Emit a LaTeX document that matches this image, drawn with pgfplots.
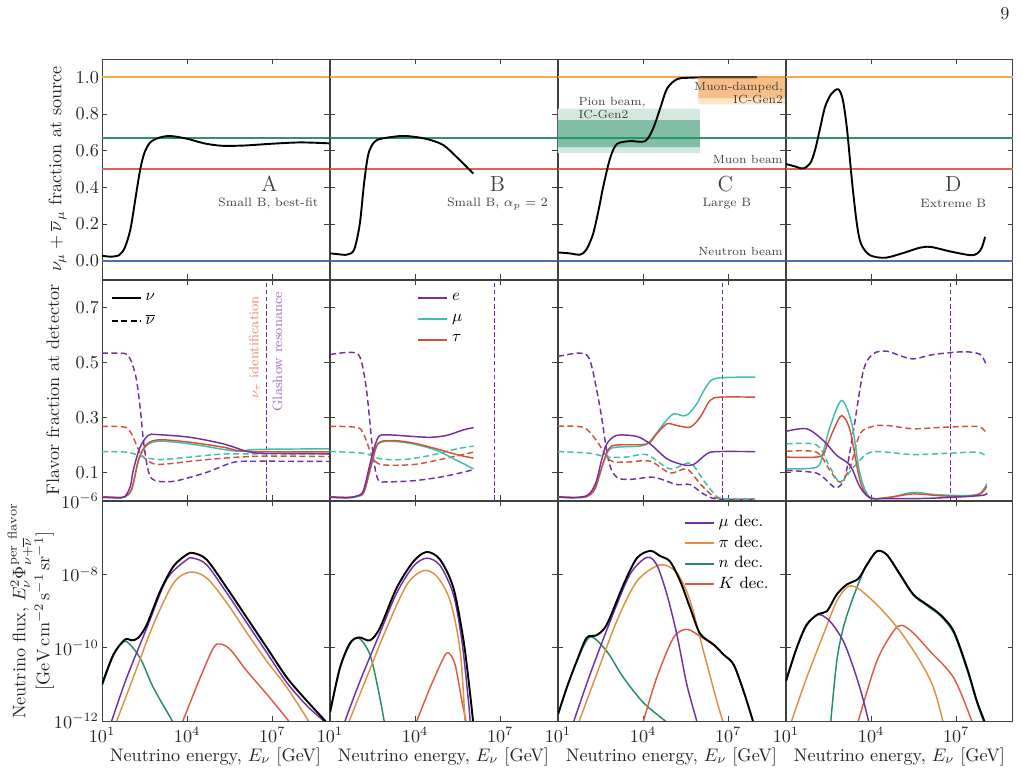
\documentclass[border=0pt]{standalone}
\usepackage{pgfplots}
\pgfplotsset{compat=1.18}
\usepgfplotslibrary{groupplots}
\definecolor{cE}{RGB}{112,48,160}
\definecolor{cMu}{RGB}{64,190,170}
\definecolor{cTau}{RGB}{210,80,56}
\definecolor{hOr}{RGB}{245,170,80}
\definecolor{hGr}{RGB}{40,150,110}
\definecolor{hRd}{RGB}{220,100,80}
\definecolor{hBl}{RGB}{80,110,170}
\definecolor{cPi}{RGB}{220,145,65}
\definecolor{cN}{RGB}{35,140,100}
\definecolor{cK}{RGB}{220,90,70}
\definecolor{bGL}{RGB}{212,232,225}
\definecolor{bGD}{RGB}{130,190,165}
\definecolor{bOr}{RGB}{238,150,55}
\definecolor{tTau}{RGB}{235,135,115}
\definecolor{tGl}{RGB}{160,110,200}
\pgfplotsset{
  hline/.style={line width=1.1pt, forget plot},
  tot/.style={black, line width=1.05pt, smooth, tension=0.5, forget plot},
  cs/.style={line width=0.8pt, smooth, tension=0.5, forget plot},
  cd/.style={line width=0.8pt, smooth, tension=0.5, dash pattern=on 3.3pt off 1.9pt, forget plot},
  row1/.style={ymin=-0.1, ymax=1.1, ytick={0,0.2,0.4,0.6,0.8,1}, yticklabels={}},
  row1L/.style={row1, yticklabels={$0.0$,$0.2$,$0.4$,$0.6$,$0.8$,$1.0$},
    ylabel={$\nu_\mu+\overline{\nu}_\mu$ fraction at source}},
  row2/.style={ymin=0, ymax=0.8, ytick={0.1,0.3,0.5,0.7}, yticklabels={}},
  row2L/.style={row2, yticklabels={$0.1$,$0.3$,$0.5$,$0.7$},
    ylabel={Flavor fraction at detector}, ylabel style={yshift=4pt}},
  row3/.style={ymin=-12, ymax=-6, ytick={-12,-10,-8,-6}, yticklabels={}},
  row3L/.style={row3, yticklabels={$10^{-12}$,$10^{-10}$,$10^{-8}$,$10^{-6}$},
    ylabel style={align=center, yshift=-5pt},
    ylabel={Neutrino flux, $E_\nu^2\Phi_{\nu+\overline{\nu}}^{\mathrm{per\ flavor}}$\\$[\mathrm{GeV\,cm^{-2}\,s^{-1}\,sr^{-1}}]$}},
}
\newcommand{\hlines}{%
  \addplot[hline, hOr] coordinates {(1,1)(9,1)};
  \addplot[hline, hGr] coordinates {(1,0.6667)(9,0.6667)};
  \addplot[hline, hRd] coordinates {(1,0.5)(9,0.5)};
  \addplot[hline, hBl] coordinates {(1,0)(9,0)};
}
\newcommand{\glashow}{\addplot[cE, line width=0.6pt, dash pattern=on 2.6pt off 1.3pt, forget plot] coordinates {(6.8,0)(6.8,0.8)};}
\begin{document}
\begin{tikzpicture}
\begin{groupplot}[
  group style={group name=G, group size=4 by 3, horizontal sep=0.55pt, vertical sep=0.55pt,
    xticklabels at=edge bottom, xlabels at=edge bottom},
  width=124.85pt, height=121pt, scale only axis,
  xmin=1, xmax=9, xtick={1,4,7}, xticklabels={$10^{1}$,$10^{4}$,$10^{7}$},
  tick align=inside, major tick length=2.6pt,
  every tick/.style={black!75, line width=0.45pt},
  axis line style={black!75, line width=0.5pt},
  tick label style={text=black!85},
  yticklabel style={inner sep=1.5pt},
  label style={text=black!85},
  xlabel={Neutrino energy, $E_\nu$ [GeV]},
  xlabel style={yshift=4pt},
  legend image code/.code={\draw[#1] (0pt,0pt) -- (16pt,0pt);},
]
% ---------------- Row 1 ----------------
\nextgroupplot[row1L]
\hlines
\addplot[tot] coordinates {(1,0.027)(1.3,0.022)(1.6,0.03)(1.8,0.07)(2.0,0.17)(2.2,0.36)(2.35,0.5)(2.5,0.59)(2.7,0.645)(3.0,0.67)(3.4,0.68)(4.0,0.665)(4.6,0.64)(5.2,0.627)(6,0.628)(7,0.638)(8,0.645)(9,0.64)};
\node[font=\large, text=black!75] at (axis cs:6.9,0.418) {A};
\node[font=\fontsize{6.7}{8}\selectfont, text=black!75] at (axis cs:6.86,0.31) {Small B, best-fit};

\nextgroupplot[row1]
\hlines
\addplot[tot] coordinates {(1,0.04)(1.3,0.035)(1.6,0.033)(1.85,0.06)(2.05,0.2)(2.2,0.42)(2.35,0.58)(2.55,0.645)(2.8,0.665)(3.5,0.68)(4.0,0.675)(4.5,0.66)(5.0,0.63)(5.5,0.56)(6.05,0.475)};
\node[font=\large, text=black!75] at (axis cs:6.9,0.418) {B};
\node[font=\fontsize{6.7}{8}\selectfont, text=black!75] at (axis cs:6.9,0.31) {Small B, $\alpha_p=2$};

\nextgroupplot[row1]
\addplot[draw=none, fill=bGL, forget plot] coordinates {(1,0.587)(6,0.587)(6,0.83)(1,0.83)(1,0.587)};
\addplot[draw=none, fill=bGD, forget plot] coordinates {(1,0.62)(6,0.62)(6,0.766)(1,0.766)(1,0.62)};
\hlines
\addplot[tot] coordinates {(1,0.045)(1.4,0.04)(1.78,0.033)(2.0,0.06)(2.24,0.147)(2.45,0.29)(2.59,0.4)(2.84,0.56)(3.08,0.636)(3.54,0.652)(4.07,0.652)(4.35,0.72)(4.6,0.83)(4.85,0.94)(5.2,0.99)(5.66,0.998)(6.5,1.0)(8.02,1.0)};
\addplot[draw=none, fill=bOr, fill opacity=0.25, forget plot] coordinates {(5.95,0.853)(9,0.853)(9,1.0)(5.95,1.0)(5.95,0.853)};
\addplot[draw=none, fill=bOr, fill opacity=0.48, forget plot] coordinates {(5.95,0.886)(9,0.886)(9,1.0)(5.95,1.0)(5.95,0.886)};
\node[font=\large, text=black!75] at (axis cs:6.9,0.418) {C};
\node[font=\fontsize{6.7}{8}\selectfont, text=black!75] at (axis cs:6.95,0.31) {Large B};
\node[font=\fontsize{6.5}{7.2}\selectfont, text=black!75, anchor=east, inner sep=0.5pt] at (axis cs:8.97,0.552) {Muon beam};
\node[font=\fontsize{6.5}{7.2}\selectfont, text=black!75, anchor=east, inner sep=0.5pt] at (axis cs:8.97,0.048) {Neutron beam};
\node[font=\fontsize{6.5}{7.2}\selectfont, text=black!75, anchor=west, align=left, inner sep=0.5pt] at (axis cs:1.68,0.835) {Pion beam,\\IC-Gen2};
\node[font=\fontsize{6.5}{7.2}\selectfont, text=black!75, anchor=east, align=right, inner sep=0.5pt] at (axis cs:8.97,0.915) {Muon-damped,\\IC-Gen2};

\nextgroupplot[row1]
\hlines
\addplot[tot] coordinates {(1,0.527)(1.3,0.515)(1.6,0.503)(1.85,0.53)(2.02,0.6)(2.2,0.72)(2.38,0.84)(2.6,0.91)(2.84,0.935)(3.0,0.88)(3.15,0.72)(3.33,0.43)(3.5,0.2)(3.65,0.09)(3.96,0.03)(4.5,0.016)(5.2,0.045)(5.7,0.07)(6.1,0.075)(6.8,0.05)(7.5,0.03)(7.75,0.04)(7.9,0.07)(8.02,0.13)};
\node[font=\large, text=black!75] at (axis cs:6.9,0.418) {D};
\node[font=\fontsize{6.7}{8}\selectfont, text=black!75] at (axis cs:6.9,0.31) {Extreme B};

% ---------------- Row 2 ----------------
\nextgroupplot[row2L, legend style={draw=none, fill=none, font=\small, at={(0.03,0.965)}, anchor=north west, inner sep=1pt, row sep=2pt}, legend cell align=left]
\addlegendimage{black, line width=1.1pt}
\addlegendentry{$\nu$}
\addlegendimage{black, line width=1.1pt, dash pattern=on 3.3pt off 1.9pt}
\addlegendentry{$\overline{\nu}$}
\glashow
\addplot[cd, cE] coordinates {(1,0.534)(1.6,0.534)(1.87,0.53)(2.05,0.5)(2.22,0.435)(2.35,0.33)(2.46,0.216)(2.6,0.12)(2.75,0.078)(3.05,0.067)(3.64,0.07)(4.7,0.101)(5.63,0.137)(6.46,0.141)(9,0.14)};
\addplot[cd, cTau] coordinates {(1,0.268)(1.75,0.266)(1.95,0.255)(2.1,0.228)(2.3,0.18)(2.46,0.156)(2.81,0.132)(3.28,0.131)(4.7,0.147)(6.46,0.159)(9,0.158)};
\addplot[cd, cMu] coordinates {(1,0.176)(1.87,0.174)(2.2,0.165)(2.46,0.156)(3.05,0.147)(4.1,0.156)(5.27,0.167)(7,0.168)(9,0.168)};
\addplot[cs, cMu] coordinates {(1,0.01)(1.5,0.008)(1.8,0.01)(2.05,0.04)(2.3,0.15)(2.6,0.2)(3.05,0.214)(4.1,0.204)(5.28,0.184)(5.87,0.177)(6.46,0.184)(9,0.186)};
\addplot[cs, cTau] coordinates {(1,0.012)(1.5,0.01)(1.8,0.012)(2.05,0.04)(2.3,0.15)(2.6,0.205)(3.05,0.219)(4.1,0.21)(5.28,0.192)(6.1,0.177)(9,0.175)};
\addplot[cs, cE] coordinates {(1,0.01)(1.5,0.008)(1.8,0.012)(2.0,0.05)(2.1,0.107)(2.34,0.192)(2.63,0.235)(2.93,0.238)(4.1,0.228)(5.28,0.204)(6.1,0.177)(6.7,0.17)(9,0.168)};
\node[rotate=90, font=\fontsize{7.5}{9}\selectfont, text=tTau] at (axis cs:6.37,0.555) {$\nu_\tau$ identification};
\node[rotate=90, font=\fontsize{7.5}{9}\selectfont, text=tGl] at (axis cs:7.18,0.54) {Glashow resonance};

\nextgroupplot[row2, legend style={draw=none, fill=none, font=\small, at={(0.375,0.965)}, anchor=north west, inner sep=1pt, row sep=2pt}, legend cell align=left]
\addlegendimage{color=cE, line width=1.1pt}
\addlegendentry{$e$}
\addlegendimage{color=cMu, line width=1.1pt}
\addlegendentry{$\mu$}
\addlegendimage{color=cTau, line width=1.1pt}
\addlegendentry{$\tau$}
\glashow
\addplot[cd, cE] coordinates {(1,0.529)(1.71,0.537)(2.06,0.519)(2.29,0.398)(2.53,0.156)(2.7,0.073)(3.0,0.066)(3.94,0.07)(4.88,0.083)(5.7,0.101)(6.06,0.111)};
\addplot[cd, cTau] coordinates {(1,0.268)(1.94,0.264)(2.18,0.241)(2.53,0.15)(2.88,0.128)(3.94,0.129)(4.88,0.147)(6.06,0.174)};
\addplot[cd, cMu] coordinates {(1,0.176)(2.18,0.17)(2.76,0.15)(3.59,0.147)(4.53,0.162)(5.47,0.186)(6.06,0.196)};
\addplot[cs, cMu] coordinates {(1,0.01)(1.6,0.008)(1.95,0.012)(2.2,0.03)(2.47,0.13)(2.7,0.204)(3.24,0.213)(3.94,0.204)(4.76,0.18)(5.47,0.144)(6.06,0.113)};
\addplot[cs, cTau] coordinates {(1,0.012)(1.6,0.01)(1.95,0.014)(2.2,0.03)(2.47,0.135)(2.7,0.207)(3.24,0.216)(3.94,0.207)(4.76,0.186)(5.47,0.165)(6.06,0.152)};
\addplot[cs, cE] coordinates {(1,0.01)(1.6,0.008)(1.95,0.015)(2.18,0.035)(2.47,0.156)(2.7,0.228)(3.0,0.237)(3.8,0.232)(4.53,0.228)(5.12,0.235)(5.7,0.255)(6.06,0.263)};

\nextgroupplot[row2]
\glashow
\addplot[cd, cE] coordinates {(1,0.522)(1.78,0.534)(2.13,0.507)(2.48,0.337)(2.78,0.144)(3.07,0.083)(3.54,0.075)(4.25,0.083)(4.6,0.077)(5.19,0.056)(5.66,0.056)(6.13,0.022)(6.6,0.004)(7.95,0.003)};
\addplot[cd, cTau] coordinates {(1,0.268)(1.9,0.264)(2.36,0.216)(2.84,0.144)(3.42,0.138)(4.25,0.141)(4.95,0.098)(5.54,0.113)(6.01,0.059)(6.48,0.013)(6.84,0.004)(7.95,0.003)};
\addplot[cd, cMu] coordinates {(1,0.176)(2.13,0.17)(2.72,0.156)(3.42,0.156)(4.13,0.165)(4.95,0.113)(5.66,0.134)(6.13,0.071)(6.6,0.013)(7.0,0.004)(7.95,0.003)};
\addplot[cs, cMu] coordinates {(1,0.01)(1.5,0.008)(2.0,0.012)(2.3,0.04)(2.55,0.12)(2.78,0.18)(3.07,0.192)(4.01,0.198)(4.36,0.228)(4.72,0.277)(5.07,0.313)(5.4,0.306)(5.6,0.313)(5.89,0.35)(6.25,0.416)(6.6,0.443)(7.95,0.447)};
\addplot[cs, cTau] coordinates {(1,0.012)(1.5,0.01)(2.0,0.012)(2.3,0.04)(2.55,0.12)(2.78,0.185)(3.07,0.2)(4.13,0.204)(4.48,0.241)(4.84,0.277)(5.19,0.271)(5.66,0.265)(6.01,0.301)(6.36,0.362)(6.72,0.374)(7.95,0.374)};
\addplot[cs, cE] coordinates {(1,0.012)(1.5,0.008)(2.0,0.015)(2.2,0.035)(2.36,0.071)(2.55,0.15)(2.72,0.204)(3.07,0.235)(3.78,0.231)(4.25,0.204)(4.84,0.15)(5.42,0.128)(5.78,0.129)(6.25,0.168)(6.6,0.176)(7.95,0.176)};

\nextgroupplot[row2]
\glashow
\addplot[cd, cE] coordinates {(1.02,0.107)(2.08,0.098)(2.55,0.059)(2.79,0.044)(3.08,0.083)(3.38,0.253)(3.73,0.471)(4.08,0.532)(4.55,0.541)(5.02,0.525)(5.49,0.513)(6.2,0.529)(7.26,0.539)(7.85,0.529)(8.08,0.485)};
\addplot[cd, cTau] coordinates {(1.02,0.177)(2.08,0.174)(2.55,0.107)(2.91,0.065)(3.26,0.119)(3.61,0.241)(4.08,0.268)(4.55,0.271)(5.49,0.259)(6.44,0.264)(7.61,0.268)(7.9,0.262)(8.08,0.241)};
\addplot[cd, cMu] coordinates {(1.02,0.204)(2.08,0.2)(2.55,0.119)(2.91,0.065)(3.38,0.119)(3.85,0.168)(4.32,0.176)(5.49,0.165)(6.67,0.17)(7.61,0.174)(7.9,0.17)(8.08,0.156)};
\addplot[cs, cMu] coordinates {(1.02,0.113)(2.08,0.119)(2.3,0.17)(2.55,0.265)(2.96,0.362)(3.32,0.277)(3.61,0.095)(3.96,0.01)(4.67,0.01)(5.49,0.028)(6.2,0.02)(7.38,0.016)(7.85,0.025)(8.08,0.059)};
\addplot[cs, cTau] coordinates {(1.02,0.156)(2.2,0.158)(2.45,0.2)(2.67,0.253)(2.96,0.307)(3.26,0.253)(3.61,0.071)(3.96,0.008)(4.67,0.01)(5.49,0.022)(6.5,0.015)(7.38,0.013)(7.85,0.022)(8.08,0.049)};
\addplot[cs, cE] coordinates {(1.02,0.25)(1.73,0.259)(2.32,0.216)(2.79,0.162)(3.26,0.126)(3.61,0.047)(3.96,0.008)(4.5,0.005)(6,0.006)(7.85,0.016)(8.08,0.026)};

% ---------------- Row 3 ----------------
\nextgroupplot[row3L]
\addplot[cs, cN] coordinates {(1,-11.05)(1.4,-10.22)(1.81,-9.82)(2.34,-10.28)(2.81,-11.09)(3.48,-12)(3.55,-12.1)};
\addplot[cs, cK] coordinates {(3.8,-12.1)(3.85,-12)(4.46,-10.82)(4.93,-10.0)(5.17,-9.9)(5.52,-10.05)(6.11,-10.64)(6.81,-11.27)(7.58,-12)(7.65,-12.1)};
\addplot[cs, cPi] coordinates {(1.45,-12.2)(1.52,-12)(2.1,-10.82)(2.81,-9.37)(3.52,-8.24)(4.1,-7.94)(4.69,-8.1)(5.4,-8.78)(6.11,-9.6)(6.81,-10.37)(7.52,-11.09)(8.28,-12)(8.4,-12.2)};
\addplot[cs, cE] coordinates {(1.25,-12.2)(1.34,-12)(1.87,-10.82)(2.58,-9.46)(3.28,-8.14)(3.99,-7.6)(4.22,-7.56)(4.69,-7.74)(5.4,-8.51)(6.11,-9.33)(6.81,-10.14)(7.52,-10.96)(8.23,-11.59)(8.81,-12)(8.9,-12.15)};
\addplot[tot] coordinates {(1,-11.0)(1.4,-10.19)(1.81,-9.78)(2.05,-9.8)(2.28,-9.73)(2.58,-9.37)(3.05,-8.46)(3.52,-7.78)(3.99,-7.46)(4.22,-7.42)(4.69,-7.6)(5.4,-8.37)(6.11,-9.19)(6.81,-10.0)(7.52,-10.82)(8.23,-11.46)(8.87,-12.0)(9,-12.15)};

\nextgroupplot[row3]
\addplot[cs, cN] coordinates {(1,-11.8)(1.35,-10.57)(1.71,-9.9)(2.02,-9.74)(2.41,-10.19)(2.71,-11.18)(2.91,-12)(2.95,-12.2)};
\addplot[cs, cK] coordinates {(4.03,-12.1)(4.06,-12)(4.53,-11.09)(5.0,-10.28)(5.18,-10.14)(5.41,-10.46)(5.65,-11.46)(5.79,-12)(5.81,-12.2)};
\addplot[cs, cPi] coordinates {(1.65,-12.1)(1.68,-12)(2.29,-10.82)(3.0,-9.46)(3.71,-8.28)(4.29,-7.9)(4.76,-8.05)(5.24,-8.73)(5.59,-10.1)(5.76,-12)(5.78,-12.2)};
\addplot[cs, cE] coordinates {(1.5,-12.1)(1.53,-12)(2.06,-10.91)(2.76,-9.6)(3.35,-8.51)(3.94,-7.78)(4.41,-7.56)(4.88,-7.76)(5.35,-8.55)(5.65,-9.82)(5.88,-11.46)(5.94,-12)(5.96,-12.2)};
\addplot[tot] coordinates {(1,-11.77)(1.35,-10.55)(1.71,-9.87)(2.03,-9.72)(2.41,-9.8)(2.76,-9.46)(3.35,-8.37)(3.94,-7.65)(4.41,-7.39)(4.88,-7.6)(5.35,-8.37)(5.71,-9.82)(5.94,-11.27)(6.04,-12)(6.07,-12.3)};

\nextgroupplot[row3, legend style={draw=none, fill=none, font=\small, at={(0.545,0.96)}, anchor=north west, inner sep=1pt, row sep=-0.5pt}, legend cell align=left]
\addlegendimage{color=cE, line width=1.1pt}
\addlegendentry{$\mu$ dec.}
\addlegendimage{color=cPi, line width=1.1pt}
\addlegendentry{$\pi$ dec.}
\addlegendimage{color=cN, line width=1.1pt}
\addlegendentry{$n$ dec.}
\addlegendimage{color=cK, line width=1.1pt}
\addlegendentry{$K$ dec.}
\addplot[cs, cN] coordinates {(1,-11.84)(1.31,-11.1)(1.66,-10.38)(2.13,-9.71)(2.72,-10.1)(3.31,-10.82)(4.01,-11.5)(4.78,-12)(4.9,-12.1)};
\addplot[cs, cK] coordinates {(3.95,-12.1)(4.01,-12)(4.48,-10.82)(5.07,-9.73)(5.54,-9.5)(6.01,-9.69)(6.48,-9.93)(6.84,-10.2)(7.19,-10.47)(7.54,-11.2)(7.87,-12)(7.92,-12.2)};
\addplot[cs, cPi] coordinates {(1.7,-12.1)(1.75,-12)(2.36,-10.73)(3.07,-9.28)(3.78,-8.19)(4.6,-7.74)(5.19,-7.96)(5.66,-8.73)(6.13,-10.1)(6.6,-11.46)(6.81,-12)(6.85,-12.1)};
\addplot[cs, cE] coordinates {(1.5,-12.15)(1.56,-12)(2.13,-10.73)(2.84,-9.28)(3.54,-8.0)(4.13,-7.54)(4.48,-7.74)(4.84,-8.55)(5.19,-9.64)(5.54,-11.0)(5.89,-12)(5.93,-12.2)};
\addplot[tot] coordinates {(1,-11.82)(1.31,-11.09)(1.66,-10.37)(2.01,-9.73)(2.36,-9.66)(2.72,-9.37)(3.31,-8.28)(3.78,-7.56)(4.25,-7.36)(4.6,-7.5)(4.95,-7.65)(5.31,-8.19)(5.66,-8.92)(6.01,-9.62)(6.48,-9.91)(6.84,-10.19)(7.19,-10.46)(7.54,-11.18)(7.87,-12)(7.92,-12.2)};

\nextgroupplot[row3]
\addplot[cs, cN] coordinates {(2.56,-12.2)(2.58,-12)(2.79,-10.37)(3.02,-9.46)(3.32,-8.73)(3.73,-7.92)(3.85,-7.76)(4.2,-7.38)(4.55,-7.47)(5.02,-8.02)(5.49,-8.57)(5.96,-8.85)(6.44,-9.13)(6.91,-9.6)(7.38,-10.6)(7.73,-11.5)(7.99,-12.05)};
\addplot[cs, cK] coordinates {(3.5,-12.2)(3.55,-12)(4.2,-10.37)(4.79,-9.55)(5.08,-9.39)(5.49,-9.6)(6.08,-10.1)(6.91,-10.82)(7.55,-12)(7.6,-12.2)};
\addplot[cs, cPi] coordinates {(1.15,-12.2)(1.2,-12)(1.73,-10.82)(2.32,-9.64)(2.79,-8.73)(3.2,-8.33)(3.61,-8.42)(4.32,-8.92)(5.02,-9.55)(5.73,-10.37)(6.2,-11.09)(6.53,-12)(6.57,-12.2)};
\addplot[cs, cE] coordinates {(1,-10.93)(1.38,-10.02)(1.73,-9.4)(2.14,-9.1)(2.55,-9.28)(3.02,-9.82)(3.38,-10.55)(3.67,-11.27)(3.91,-12)(3.95,-12.2)};
\addplot[tot] coordinates {(1,-10.91)(1.38,-10.0)(1.73,-9.37)(2.14,-9.08)(2.44,-9.01)(2.79,-8.55)(3.14,-8.28)(3.55,-8.12)(3.85,-7.74)(4.2,-7.37)(4.55,-7.46)(5.02,-8.0)(5.49,-8.55)(5.96,-8.82)(6.44,-9.1)(6.91,-9.55)(7.38,-10.55)(7.73,-11.46)(7.99,-12)(8.05,-12.2)};
\end{groupplot}
\path (G c1r1.north west) ++(-56.1pt,32.45pt) coordinate (TL);
\node[text=black!85] at ([shift={(552.75pt,-7.7pt)}]TL) {9};
\pgfresetboundingbox
\path[use as bounding box] (TL) rectangle ++(562.65pt,-423.5pt);
\end{tikzpicture}
\end{document}
